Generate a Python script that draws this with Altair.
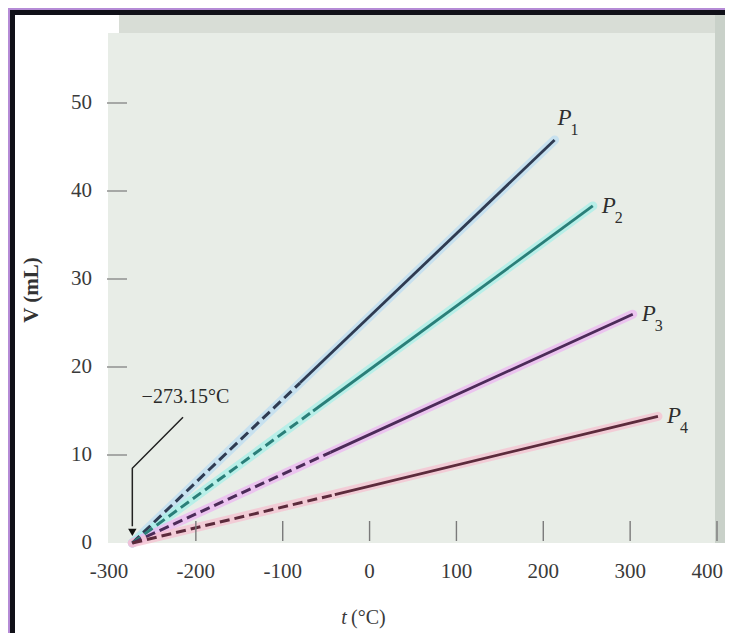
import altair as alt
import pandas as pd

# ---- data ----
series = ["P1", "P2", "P3", "P4"]
sub_digits = ["1", "2", "3", "4"]
abs_zero_t = -273.15
dash_end_t = [-80, -65, -45, -40]
dash_end_v = [18.2, 15.0, 10.3, 5.5]
end_t = [213, 257, 303, 332]
end_v = [45.8, 38.3, 26.0, 14.4]

x_ticks = [-300, -200, -100, 0, 100, 200, 300, 400]
y_ticks = [0, 10, 20, 30, 40, 50]

# ---- styles ----
core_colors = ["#2f3b52", "#2a7f79", "#4c2b59", "#5c2b3c"]
halo_colors = ["#bcdcf2", "#a8efe8", "#ecb6f2", "#f6c0d0"]
serif = "Liberation Serif"
label_color = "#3a3a3a"

W, H = 608, 440

dashed = pd.DataFrame(
    [{"s": s, "t": abs_zero_t, "v": 0.0} for s in series]
    + [{"s": s, "t": t, "v": v} for s, t, v in zip(series, dash_end_t, dash_end_v)]
)
solid = pd.DataFrame(
    [{"s": s, "t": t, "v": v} for s, t, v in zip(series, dash_end_t, dash_end_v)]
    + [{"s": s, "t": t, "v": v} for s, t, v in zip(series, end_t, end_v)]
)
halo = pd.DataFrame(
    [{"s": s, "t": abs_zero_t, "v": 0.0} for s in series]
    + [{"s": s, "t": t, "v": v} for s, t, v in zip(series, end_t, end_v)]
)
ends = pd.DataFrame({"s": series, "t": end_t, "v": end_v, "d": sub_digits})
xt = pd.DataFrame({"t": x_ticks, "lab": [str(v) for v in x_ticks]})
yt = pd.DataFrame({"v": y_ticks, "lab": [str(v) for v in y_ticks]})

xs = alt.Scale(domain=[-300, 400], nice=False, zero=False)
ys = alt.Scale(domain=[0, 50], nice=False, zero=False)
X = alt.X("t:Q", scale=xs, axis=None)
Y = alt.Y("v:Q", scale=ys, axis=None)

one = alt.Data(values=[{}])


def rect(x, x2, y, y2, color):
    return alt.Chart(one).mark_rect(color=color, strokeWidth=0).encode(
        x=alt.value(x), x2=alt.value(x2), y=alt.value(y), y2=alt.value(y2)
    )


# frame / 3-D box decorations (pixel positions relative to plot area)
deco = [
    rect(-99, 700, -93, 700, "#101018"),
    rect(-94, 700, -88, 700, "#ffffff"),
    rect(10, 700, -88, -70, "#d8ddd6"),
    rect(606, 700, -88, 440, "#c9d1c9"),
    rect(-1, 606, -70, 440, "#e8ede7"),
]

cscale_core = alt.Scale(domain=series, range=core_colors)
cscale_halo = alt.Scale(domain=series, range=halo_colors)

halo_l = alt.Chart(halo).mark_line(strokeWidth=9, opacity=0.75, strokeCap="round").encode(
    x=X, y=Y, detail="s:N", color=alt.Color("s:N", scale=cscale_halo, legend=None)
)
dash_l = alt.Chart(dashed).mark_line(strokeWidth=3, strokeDash=[10, 5]).encode(
    x=X, y=Y, detail="s:N", color=alt.Color("s:N", scale=cscale_core, legend=None)
)
solid_l = alt.Chart(solid).mark_line(strokeWidth=2.8).encode(
    x=X, y=Y, detail="s:N", color=alt.Color("s:N", scale=cscale_core, legend=None)
)

# series labels P with subscript
lab_first = alt.Chart(ends).transform_filter(alt.datum.s == "P1")
lab_rest = alt.Chart(ends).transform_filter(alt.datum.s != "P1")
p_style = dict(font=serif, fontStyle="italic", fontSize=23, color="#2e2e2e", baseline="middle")
s_style = dict(font=serif, fontSize=16, color="#2e2e2e", baseline="middle")
labels = [
    lab_first.mark_text(dx=10, dy=-22, **p_style).encode(x=X, y=Y, text=alt.value("P")),
    lab_first.mark_text(dx=20, dy=-10, **s_style).encode(x=X, y=Y, text="d:N"),
    lab_rest.mark_text(dx=16, dy=0, **p_style).encode(x=X, y=Y, text=alt.value("P")),
    lab_rest.mark_text(dx=26, dy=12, **s_style).encode(x=X, y=Y, text="d:N"),
]

# ticks (drawn inward) and tick labels
xtick = alt.Chart(xt).transform_filter(alt.datum.t > -300).mark_rule(
    color="#7a7a7a", strokeWidth=1.4
).encode(x=X, y=alt.value(H - 22), y2=alt.value(H - 2))
ytick = alt.Chart(yt).transform_filter(alt.datum.v > 0).mark_rule(
    color="#8a8a8a", strokeWidth=1.4
).encode(y=Y, x=alt.value(-2), x2=alt.value(18))
xlab = alt.Chart(xt).transform_filter(alt.datum.t < 400).mark_text(
    font=serif, fontSize=21, color=label_color, baseline="middle"
).encode(x=X, y=alt.value(H + 29), text="lab:N")
xlab_last = alt.Chart(xt).transform_filter(alt.datum.t >= 400).mark_text(
    font=serif, fontSize=21, color=label_color, baseline="middle", align="right", dx=6
).encode(x=X, y=alt.value(H + 29), text="lab:N")
ylab = alt.Chart(yt).mark_text(
    font=serif, fontSize=21, color=label_color, baseline="middle", align="right"
).encode(y=Y, x=alt.value(-17), text="lab:N")

xtitle_t = alt.Chart(one).mark_text(
    font=serif, fontSize=20, fontStyle="italic", color=label_color, baseline="middle"
).encode(x=alt.value(235), y=alt.value(H + 75), text=alt.value("t"))
xtitle_u = alt.Chart(one).mark_text(
    font=serif, fontSize=20, color=label_color, baseline="middle", align="left"
).encode(x=alt.value(242), y=alt.value(H + 75), text=alt.value("(°C)"))
ytitle = alt.Chart(one).mark_text(
    font=serif, fontSize=21, fontWeight="bold", color="#333333", baseline="middle", angle=270
).encode(x=alt.value(-77), y=alt.value(187), text=alt.value("V (mL)"))

# annotation for absolute zero
ann_t = [-212.0]
ann_v = [16.6]
arrow_pts = pd.DataFrame({"t": [-214.8, abs_zero_t, abs_zero_t], "v": [14.3, 8.5, 1.9], "o": [0, 1, 2]})
ann_text = alt.Chart(pd.DataFrame({"t": ann_t, "v": ann_v, "lab": ["\u2212273.15°C"]})).mark_text(
    font=serif, fontSize=20, color="#2a2a2a", baseline="middle"
).encode(x=X, y=Y, text="lab:N")
arrow_line = alt.Chart(arrow_pts).mark_line(color="#222222", strokeWidth=1.5).encode(
    x=X, y=Y, order="o:Q"
)
arrow_head = alt.Chart(pd.DataFrame({"t": [abs_zero_t], "v": [1.2]})).mark_point(
    shape="triangle-down", filled=True, size=70, color="#111111", opacity=1
).encode(x=X, y=Y)

layers = deco + [halo_l, dash_l, solid_l, xtick, ytick, xlab, xlab_last, ylab, xtitle_t, xtitle_u,
                 ytitle, ann_text, arrow_line, arrow_head] + labels

chart = (
    alt.layer(*layers)
    .resolve_scale(color="independent")
    .properties(
        width=W,
        height=H,
        padding={"left": 101, "top": 95, "right": 8, "bottom": 90},
        autosize=alt.AutoSizeParams(type="none"),
        background="#b58bd6",
    )
    .configure_view(stroke=None)
)

chart.save("out.html", embed_options={"renderer": "svg", "actions": False})
